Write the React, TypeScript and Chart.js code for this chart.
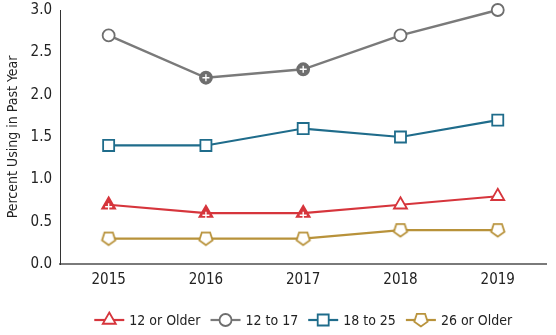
import React, { useEffect, useRef } from 'react';
import { Chart, registerables } from 'chart.js';

Chart.register(...registerables);

const years = ['2015', '2016', '2017', '2018', '2019'];
const older12 = [0.7, 0.6, 0.6, 0.7, 0.8];
const age12to17 = [2.7, 2.2, 2.3, 2.7, 3.0];
const age18to25 = [1.4, 1.4, 1.6, 1.5, 1.7];
const older26 = [0.3, 0.3, 0.3, 0.4, 0.4];
const older12Sig = [true, true, true, false, false];
const age12to17Sig = [false, true, true, false, false];
const age18to25Sig = [false, false, false, false, false];
const older26Sig = [false, false, false, false, false];
const seriesLabels = ['12 or Older', '12 to 17', '18 to 25', '26 or Older'];
const yTicks = [0, 0.5, 1, 1.5, 2, 2.5, 3];

const FONT = '"Liberation Sans Narrow", "DejaVu Sans Condensed", "Liberation Sans", sans-serif';
const RED = '#d6353c';
const GRAY_LINE = '#7a7a7a';
const GRAY_MARK = '#6e6e6e';
const TEAL = '#1f6c8b';
const GOLD = '#b8923a';

function pentagonPath(ctx: CanvasRenderingContext2D, cx: number, cy: number, r: number) {
  ctx.beginPath();
  for (let i = 0; i < 5; i++) {
    const a = Math.PI / 2 + (i * 2 * Math.PI) / 5; // point down
    const x = cx + r * Math.cos(a);
    const y = cy + r * Math.sin(a);
    if (i === 0) ctx.moveTo(x, y);
    else ctx.lineTo(x, y);
  }
  ctx.closePath();
}

function makePentagon(): HTMLCanvasElement {
  const c = document.createElement('canvas');
  c.width = 18;
  c.height = 18;
  const ctx = c.getContext('2d')!;
  pentagonPath(ctx, 9, 8.5, 7);
  ctx.fillStyle = '#ffffff';
  ctx.fill();
  ctx.lineWidth = 1.8;
  ctx.strokeStyle = GOLD;
  ctx.stroke();
  return c;
}

function drawMarker(ctx: CanvasRenderingContext2D, kind: string, x: number, y: number, color: string, pent: HTMLCanvasElement) {
  ctx.save();
  ctx.lineWidth = 1.8;
  ctx.strokeStyle = color;
  ctx.fillStyle = '#ffffff';
  if (kind === 'triangle') {
    const r = 7.5;
    ctx.beginPath();
    ctx.moveTo(x, y - r);
    ctx.lineTo(x + r * Math.sin(Math.PI / 3), y + r / 2);
    ctx.lineTo(x - r * Math.sin(Math.PI / 3), y + r / 2);
    ctx.closePath();
    ctx.fill();
    ctx.stroke();
  } else if (kind === 'circle') {
    ctx.beginPath();
    ctx.arc(x, y, 6, 0, Math.PI * 2);
    ctx.fill();
    ctx.stroke();
  } else if (kind === 'rect') {
    ctx.beginPath();
    ctx.rect(x - 5.5, y - 5.5, 11, 11);
    ctx.fill();
    ctx.stroke();
  } else {
    ctx.drawImage(pent, x - 9, y - 9);
  }
  ctx.restore();
}

export default function App() {
  const ref = useRef<HTMLCanvasElement>(null);

  useEffect(() => {
    if (!ref.current) return;
    const pent = makePentagon();
    const kinds = ['triangle', 'circle', 'rect', 'pentagon'];
    const lineColors = [RED, GRAY_LINE, TEAL, GOLD];
    const markColors = [RED, GRAY_MARK, TEAL, GOLD];
    const sigs = [older12Sig, age12to17Sig, age18to25Sig, older26Sig];
    const values = [older12, age12to17, age18to25, older26];

    const plusPlugin = {
      id: 'sigPlus',
      afterDatasetsDraw(chart: any) {
        const ctx = chart.ctx;
        ctx.save();
        ctx.strokeStyle = '#ffffff';
        ctx.lineWidth = 1.4;
        chart.data.datasets.forEach((ds: any, i: number) => {
          const meta = chart.getDatasetMeta(i);
          sigs[i].forEach((s, j) => {
            if (!s) return;
            const el = meta.data[j];
            const cx = el.x;
            const cy = kinds[i] === 'triangle' ? el.y + 2 : el.y;
            const h = 3.5;
            ctx.beginPath();
            ctx.moveTo(cx - h, cy);
            ctx.lineTo(cx + h, cy);
            ctx.moveTo(cx, cy - h);
            ctx.lineTo(cx, cy + h);
            ctx.stroke();
          });
        });
        ctx.restore();
      },
    };

    const legendPlugin = {
      id: 'customLegend',
      afterDraw(chart: any) {
        const ctx = chart.ctx;
        ctx.save();
        ctx.font = `14px ${FONT}`;
        ctx.textBaseline = 'middle';
        const lineLen = 30;
        const gap = 5;
        const after = 10;
        const widths = seriesLabels.map((l) => ctx.measureText(l).width);
        let total = 0;
        widths.forEach((w, i) => {
          total += lineLen + gap + w + (i < widths.length - 1 ? after : 0);
        });
        const ca = chart.chartArea;
        let x = (ca.left + ca.right) / 2 - total / 2;
        const y = 320;
        seriesLabels.forEach((l, i) => {
          ctx.strokeStyle = lineColors[i];
          ctx.lineWidth = 2.2;
          ctx.beginPath();
          ctx.moveTo(x, y);
          ctx.lineTo(x + lineLen, y);
          ctx.stroke();
          drawMarker(ctx, kinds[i], x + lineLen / 2, y, markColors[i], pent);
          ctx.fillStyle = '#222222';
          ctx.fillText(l, x + lineLen + gap, y + 1);
          x += lineLen + gap + widths[i] + after;
        });
        ctx.restore();
      },
    };

    const datasets = values.map((v, i) => ({
      label: seriesLabels[i],
      data: v,
      borderColor: lineColors[i],
      borderWidth: i === 1 ? 2.4 : 2.2,
      pointStyle: kinds[i] === 'pentagon' ? pent : kinds[i],
      pointRadius: kinds[i] === 'triangle' ? 7.5 : kinds[i] === 'rect' ? 7.8 : 6,
      pointBorderWidth: 1.8,
      pointBorderColor: markColors[i],
      pointBackgroundColor: sigs[i].map((s) => (s ? markColors[i] : '#ffffff')),
      tension: 0,
      fill: false,
      clip: false,
    }));

    const chart = new Chart(ref.current, {
      type: 'line',
      data: { labels: years, datasets },
      plugins: [plusPlugin, legendPlugin],
      options: {
        animation: false,
        responsive: true,
        maintainAspectRatio: false,
        layout: { padding: { left: 5, right: 4, top: 10, bottom: 43 } },
        plugins: { legend: { display: false }, tooltip: { enabled: false } },
        scales: {
          x: {
            offset: true,
            grid: { display: false, drawTicks: false },
            border: { display: true, color: '#7a7a7a', width: 2 },
            ticks: { padding: 7, color: '#222', font: { family: FONT, size: 15 } },
            afterFit: (s: any) => { s.height = 28; s.paddingLeft = 0; s.paddingRight = 0; },
          },
          y: {
            min: 0,
            max: 3,
            grace: 0,
            grid: { display: false, drawTicks: false },
            border: { display: true, color: '#333', width: 1 },
            afterBuildTicks: (s: any) => { s.ticks = yTicks.map((v) => ({ value: v })); },
            ticks: {
              padding: 8,
              color: '#222',
              font: { family: FONT, size: 15 },
              callback: (v: any) => Number(v).toFixed(1),
            },
            title: {
              display: true,
              text: 'Percent Using in Past Year',
              color: '#222',
              font: { family: FONT, size: 14 },
              padding: { top: 0, bottom: 0 },
            },
            afterFit: (s: any) => { s.width = 55; s.paddingTop = 0; s.paddingBottom = 0; },
          },
        },
      },
    });
    return () => chart.destroy();
  }, []);

  return (
    <div style={{ position: 'absolute', left: 0, top: 0, width: 556, height: 335, background: '#fff' }}>
      <canvas ref={ref} />
    </div>
  );
}
